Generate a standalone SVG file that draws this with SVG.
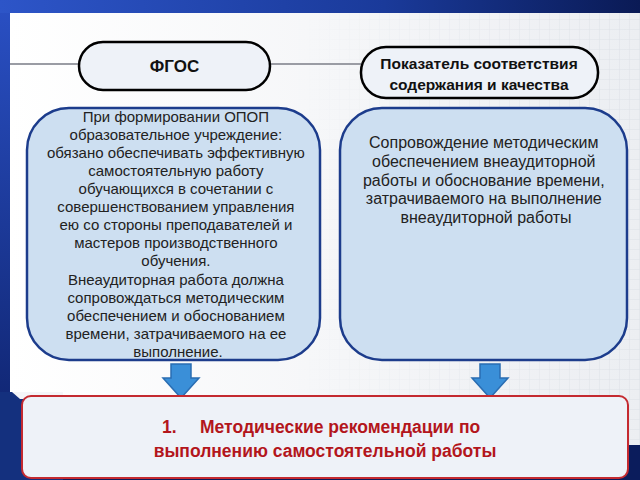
<svg xmlns="http://www.w3.org/2000/svg" width="640" height="480" viewBox="0 0 640 480">
<defs>
<linearGradient id="topg" x1="0" y1="0" x2="1" y2="0">
<stop offset="0" stop-color="#2d55c8"/><stop offset="0.6" stop-color="#1a3a9a"/><stop offset="1" stop-color="#0a1a55"/>
</linearGradient>
<linearGradient id="leftg" x1="0" y1="0" x2="0" y2="1">
<stop offset="0" stop-color="#2a50c4"/><stop offset="1" stop-color="#0c1f66"/>
</linearGradient>
<linearGradient id="panelg" x1="0" y1="0" x2="1" y2="0">
<stop offset="0" stop-color="#ffffff"/><stop offset="1" stop-color="#eceef2"/>
</linearGradient>
<pattern id="grid" width="10" height="10" patternUnits="userSpaceOnUse">
<path d="M10 0V10M0 10H10" fill="none" stroke="#dde0e6" stroke-width="1"/>
</pattern>
<linearGradient id="gridfade" x1="0" y1="0" x2="1" y2="0">
<stop offset="0" stop-color="#fff" stop-opacity="0"/><stop offset="0.45" stop-color="#fff" stop-opacity="0"/><stop offset="1" stop-color="#fff" stop-opacity="1"/>
</linearGradient>
<mask id="gm"><rect x="0" y="0" width="640" height="480" fill="url(#gridfade)"/></mask>
<symbol id="arrow" viewBox="0 0 40 36">
<path d="M10 1H30V15H38L20 35L2 15H10Z" fill="#3a8fd8" stroke="#2a6db2" stroke-width="1.5"/>
</symbol>
</defs>
<style>
.pill{fill:#eef2f8;stroke:#000;stroke-width:2.5}
.bbox{fill:#cddff1;stroke:#1c3c8c;stroke-width:2.5}
.t{font-family:"Liberation Sans",Arial,sans-serif;fill:#222;text-anchor:middle}
.hb{font-weight:bold;fill:#111}
.red{font-family:"Liberation Sans",Arial,sans-serif;font-weight:bold;fill:#b3161c;font-size:17.5px}
.conn{stroke:#9a9ca4;stroke-width:2;fill:none}
</style>
<!-- background -->
<rect x="0" y="0" width="640" height="480" fill="url(#leftg)"/>
<rect x="0" y="0" width="640" height="13" fill="url(#topg)"/>
<rect x="10" y="13" width="630" height="432" fill="url(#panelg)"/>
<rect x="10" y="13" width="630" height="432" fill="url(#grid)" mask="url(#gm)"/>
<rect x="0" y="445" width="640" height="35" fill="#0b1c5c"/>
<rect x="0" y="392" width="63" height="88" fill="#14307e"/>
<path d="M12 392H63V399H20Z" fill="#f4f5f8"/>

<g id="connectors">
<line class="conn" x1="10" y1="64" x2="79" y2="64"/>
<line class="conn" x1="270" y1="64" x2="361" y2="64"/>
<use href="#arrow" x="161" y="363" width="40" height="36"/>
<use href="#arrow" x="470" y="363" width="40" height="36"/>
</g>

<g id="fgos">
<rect class="pill" x="79" y="42" width="191" height="48" rx="24"/>
<text class="t hb" x="174.5" y="72" font-size="17">ФГОС</text>
</g>

<g id="indicator">
<rect class="pill" x="361" y="47" width="237" height="51" rx="25"/>
<text class="t hb" font-size="15.5"><tspan x="479" y="69">Показатель соответствия</tspan><tspan x="479" y="90">содержания и качества</tspan></text>
</g>

<g id="left-box">
<rect class="bbox" x="27" y="108" width="293" height="252" rx="42"/>
<text class="t" font-size="15">
<tspan x="178" y="122">При формировании ОПОП</tspan>
<tspan x="178" y="140">образовательное учреждение:</tspan>
<tspan x="178" y="158">обязано обеспечивать эффективную</tspan>
<tspan x="178" y="176">самостоятельную работу</tspan>
<tspan x="178" y="194">обучающихся в сочетании с</tspan>
<tspan x="178" y="212">совершенствованием управления</tspan>
<tspan x="178" y="230">ею со стороны преподавателей и</tspan>
<tspan x="178" y="248">мастеров производственного</tspan>
<tspan x="178" y="266">обучения.</tspan>
<tspan x="178" y="285">Внеаудиторная работа должна</tspan>
<tspan x="178" y="303">сопровождаться методическим</tspan>
<tspan x="178" y="321">обеспечением и обоснованием</tspan>
<tspan x="178" y="339">времени, затрачиваемого на ее</tspan>
<tspan x="178" y="357">выполнение.</tspan>
</text>
</g>

<g id="right-box">
<rect class="bbox" x="340" y="108" width="287" height="252" rx="42"/>
<text class="t" font-size="16">
<tspan x="486" y="148">Сопровождение методическим</tspan>
<tspan x="486" y="167">обеспечением внеаудиторной</tspan>
<tspan x="486" y="186">работы и обоснование времени,</tspan>
<tspan x="486" y="204">затрачиваемого на выполнение</tspan>
<tspan x="486" y="223">внеаудиторной работы</tspan>
</text>
</g>

<g id="result">
<rect x="22" y="396" width="606" height="82" rx="9" fill="#eef2f8" stroke="#c42a30" stroke-width="2"/>
<text class="red"><tspan x="162" y="433">1.</tspan><tspan x="200" y="433">Методические рекомендации по</tspan></text>
<text class="red" text-anchor="middle" x="325" y="457">выполнению самостоятельной работы</text>
</g>
</svg>
